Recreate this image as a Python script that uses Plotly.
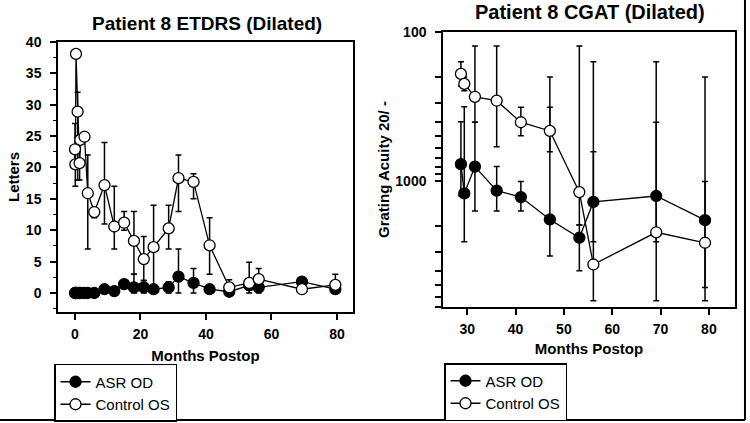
import math

import plotly.graph_objects as go

# ETDRS letters (left panel)
etdrs_months = [0, 0.1, 0.3, 0.8, 1.4, 1.6, 2.9, 3.9, 5.9, 9, 12, 15, 18, 21, 24,
                28.6, 31.6, 36.2, 41.1, 47.1, 53.2, 56.1, 69.3, 79.5]
etdrs_ctrl = [22.9, 20.5, 38.1, 28.9, 20.7, 24.4, 24.9, 15.9, 12.9, 17.2, 10.6, 11.2, 8.3, 5.4, 7.3,
              10.3, 18.3, 17.7, 7.6, 0.9, 1.6, 2.2, 0.6, 1.3]
etdrs_ctrl_lo = [20, 17, 38.1, 18, 18, 24.4, 24.9, 7, 12, 11, 7, 10, 3, 2, 0,
                 7, 13, 15, 3, 0, 0, 0.4, 0, 0]
etdrs_ctrl_hi = [27, 23, 38.1, 32, 24, 24.4, 24.9, 22, 13.5, 24, 17, 13, 13, 9, 14,
                 14, 22, 19, 12, 2.1, 4.9, 3.9, 1.2, 3]
etdrs_asr = [0, 0, 0, 0, 0, 0, 0, 0, 0, 0.6, 0.3, 1.4, 0.9, 0.9, 0.6,
             0.9, 2.6, 1.6, 0.6, 0.2, 1.2, 0.9, 1.8, 0.6]
etdrs_asr_lo = [0, 0, 0, 0, 0, 0, 0, 0, 0, 0.6, 0.3, 1.0, 0, 0, 0,
                0, 0, 0, 0.6, 0.2, 0.5, 0, 1.8, 0.6]
etdrs_asr_hi = [0, 0, 0, 0, 0, 0, 0, 0, 0, 0.6, 0.3, 1.8, 3, 2, 0.6,
                1.8, 7, 3.9, 0.6, 0.2, 1.9, 1.5, 1.8, 0.6]

# CGAT grating acuity 20/x (right panel)
cgat_months = [28.7, 29.4, 31.6, 36.1, 41.1, 47.1, 53.2, 56.1, 69.1, 79.2]
cgat_asr = [770, 1210, 800, 1160, 1280, 1810, 2400, 1380, 1260, 1830]
cgat_asr_lo = [400, 317, 403, 800, 1005, 320, 1973, 158, 158, 200]
cgat_asr_hi = [1250, 2550, 1590, 1590, 1590, 3187, 4000, 2550, 2550, 5180]
cgat_ctrl = [191, 223, 272, 289, 403, 461, 1186, 3630, 2207, 2594]
cgat_ctrl_lo = [158, 200, 124, 124, 320, 200, 124, 635, 403, 1005]
cgat_ctrl_hi = [230, 248, 403, 588, 497, 635, 1973, 6360, 6360, 6360]

cgat_ticks = [100, 200, 300, 400, 500, 600, 700, 800, 900,
              1000, 2000, 3000, 4000, 5000, 6000, 7000]
cgat_ticktext = ["100"] + [""] * 8 + ["1000"] + [""] * 6

FONT = "Liberation Sans, Arial, sans-serif"


def err(vals, lo, hi):
    return dict(type="data", symmetric=False,
                array=[h - v for v, h in zip(vals, hi)],
                arrayminus=[v - l for v, l in zip(vals, lo)],
                color="black", thickness=1.5, width=3)


def series(x, y, lo, hi, name, filled, xa, ya, legend):
    return go.Scatter(
        x=x, y=y, name=name, mode="lines+markers",
        xaxis=xa, yaxis=ya, legend=legend,
        line=dict(color="black", width=1.3),
        marker=dict(symbol="circle", size=11,
                    color="black" if filled else "white",
                    line=dict(color="black", width=1.3)),
        error_y=err(y, lo, hi),
    )


fig = go.Figure()
fig.add_trace(series(etdrs_months, etdrs_asr, etdrs_asr_lo, etdrs_asr_hi,
                     "ASR OD", True, "x", "y", "legend"))
fig.add_trace(series(etdrs_months, etdrs_ctrl, etdrs_ctrl_lo, etdrs_ctrl_hi,
                     "Control OS", False, "x", "y", "legend"))
fig.add_trace(series(cgat_months, cgat_asr, cgat_asr_lo, cgat_asr_hi,
                     "ASR OD", True, "x2", "y2", "legend2"))
fig.add_trace(series(cgat_months, cgat_ctrl, cgat_ctrl_lo, cgat_ctrl_hi,
                     "Control OS", False, "x2", "y2", "legend2"))

axis_style = dict(
    showline=True, mirror=True, linecolor="black", linewidth=1.5,
    ticks="outside", ticklen=6, tickwidth=1.5, tickcolor="black",
    showgrid=False, zeroline=False, automargin=False,
    tickfont=dict(family=FONT, size=14, color="black", weight="bold"),
)
title_font = dict(family=FONT, size=15, color="black", weight="bold")
legend_style = dict(xanchor="left", yanchor="top",
                    bordercolor="black", borderwidth=1.5, bgcolor="white",
                    font=dict(family=FONT, size=15, color="black"),
                    tracegroupgap=0)

fig.update_layout(
    width=750, height=423,
    margin=dict(l=0, r=0, t=0, b=0, autoexpand=False),
    paper_bgcolor="white", plot_bgcolor="white",
    font=dict(family=FONT, color="black"),
    xaxis=dict(domain=[0.0773, 0.4707], anchor="y", range=[-5.2, 84.9],
               tickvals=[0, 20, 40, 60, 80], ticklabelstandoff=2,
               title=dict(text="Months Postop", font=title_font, standoff=10),
               **axis_style),
    yaxis=dict(domain=[0.2624, 0.9007], anchor="x", range=[-3.03, 40],
               tick0=0, dtick=5, ticklabelstandoff=6,
               minor=dict(ticks="outside", dtick=2.5, ticklen=3, tickwidth=1.2,
                          tickcolor="black", showgrid=False),
               title=dict(text="Letters", font=title_font, standoff=3),
               **axis_style),
    xaxis2=dict(domain=[0.5907, 0.98], anchor="y2", range=[25, 85.4],
                tickvals=[30, 40, 50, 60, 70, 80], ticklabelstandoff=2,
                title=dict(text="Months Postop", font=title_font, standoff=8),
                **axis_style),
    yaxis2=dict(domain=[0.2742, 0.9243], anchor="x2", type="log",
                range=[math.log10(7000), 2], ticklabelstandoff=6,
                tickvals=cgat_ticks, ticktext=cgat_ticktext,
                title=dict(text="Grating Acuity 20/ -", font=title_font, standoff=2),
                **axis_style),
    legend=dict(x=0.072, y=0.1395, **legend_style),
    legend2=dict(x=0.592, y=0.1418, **legend_style),
    annotations=[
        dict(text="Patient 8 ETDRS (Dilated)", x=0.276, y=0.9456,
             xref="paper", yref="paper", showarrow=False,
             xanchor="center", yanchor="middle",
             font=dict(family=FONT, size=19, color="black", weight="bold")),
        dict(text="Patient 8 CGAT (Dilated)", x=0.7867, y=0.9716,
             xref="paper", yref="paper", showarrow=False,
             xanchor="center", yanchor="middle",
             font=dict(family=FONT, size=20, color="black", weight="bold")),
    ],
    shapes=[
        dict(type="line", xref="paper", yref="paper", x0=0, x1=0.9933,
             y0=0.0071, y1=0.0071, line=dict(color="black", width=2)),
        dict(type="line", xref="paper", yref="paper", x0=0.9933, x1=0.9933,
             y0=0.0071, y1=1, line=dict(color="black", width=2)),
    ],
)

# the page body has a default 8px margin; drop it so the figure sits at 0,0
fig.write_html("out.html", config={"displayModeBar": False},
               post_script="document.body.style.margin='0';")
